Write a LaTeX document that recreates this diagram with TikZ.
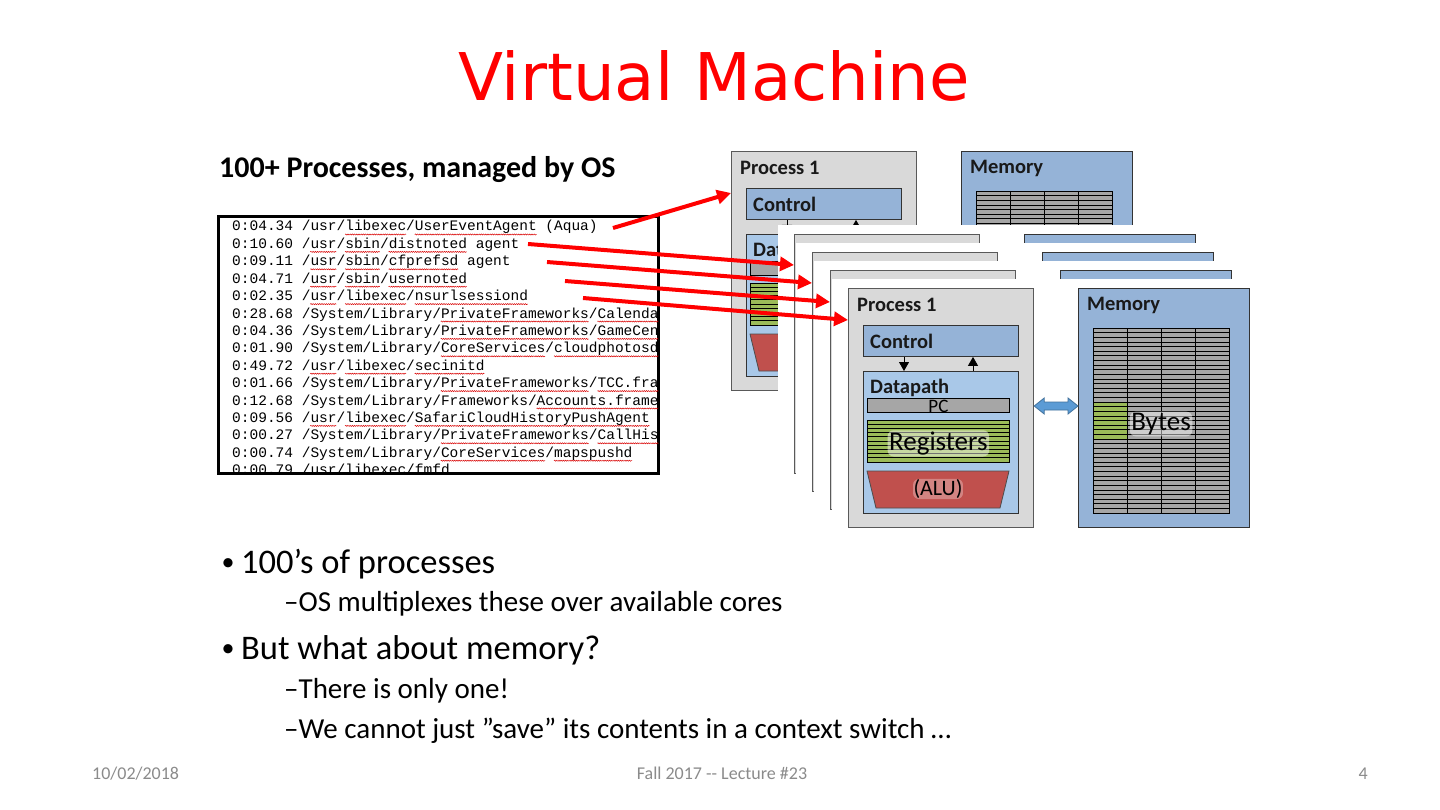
\documentclass[tikz,border=0pt]{standalone}
\usepackage{fontspec}
\setmainfont{Carlito}
\newfontfamily\monofont{Liberation Mono}
\newfontfamily\titlefont{DejaVu Sans}
\usetikzlibrary{calc,arrows.meta,decorations.pathmorphing}

\definecolor{procgray}{HTML}{D9D9D9}
\definecolor{procborder}{HTML}{595959}
\definecolor{ctrlblue}{HTML}{95B3D7}
\definecolor{dpblue}{HTML}{A9C8E8}
\definecolor{memblue}{HTML}{95B3D7}
\definecolor{pcgray}{HTML}{A6A6A6}
\definecolor{reggreen}{HTML}{9BBB59}
\definecolor{alured}{HTML}{C0504D}
\definecolor{arrowblue}{HTML}{5B9BD5}
\definecolor{arrowblueborder}{HTML}{41719C}
\definecolor{footgray}{HTML}{8B8B8B}
\definecolor{titlered}{HTML}{FF0000}

\tikzset{
  procbox/.style={draw=procborder, fill=procgray, line width=1.2pt, minimum width=185pt, minimum height=239pt, anchor=north west, inner sep=0pt},
  ctrlbox/.style={draw=black!80, fill=ctrlblue, line width=0.9pt, minimum width=155pt, minimum height=31pt, anchor=north west, inner sep=0pt},
  dpbox/.style={draw=black!80, fill=dpblue, line width=0.9pt, minimum width=155pt, minimum height=142pt, anchor=north west, inner sep=0pt},
  pcbox/.style={draw=black, fill=pcgray, line width=0.8pt, minimum width=142pt, minimum height=14pt, anchor=north west, inner sep=0pt},
  regbox/.style={draw=black, fill=reggreen, line width=0.8pt, minimum width=142pt, minimum height=42pt, anchor=north west, inner sep=0pt},
  membox/.style={draw=black!80, fill=memblue, line width=1.2pt, minimum width=171pt, minimum height=239pt, anchor=north west, inner sep=0pt},
  lbl/.style={font=\fontsize{20.5}{23}\selectfont\bfseries, text=black!90, inner sep=0pt, anchor=west},
  glow/.style={fill=white, fill opacity=0.45, text opacity=1, rounded corners=6pt, inner sep=1.5pt},
  smallarrow/.style={line width=0.8pt, -{Triangle[length=9pt,width=10pt]}},
  dblarrow/.style={fill=arrowblue, draw=arrowblueborder, line width=0.8pt},
  alushape/.style={fill=alured, draw=black!70, line width=0.8pt},
  redarrow/.style={draw=titlered, line width=4pt, -{Triangle[length=14pt,width=14pt]}},
  termtext/.style={font=\monofont\fontsize{14.5}{17.4}\selectfont, anchor=base west, inner sep=0pt},
  squiggle/.style={draw=red!85!black, line width=0.5pt, decorate, decoration={snake, amplitude=0.55pt, segment length=2.2pt}},
  bodytext/.style={anchor=base west, inner sep=0pt, font=\fontsize{34.5}{40}\selectfont},
  bulletdot/.style={anchor=base, inner sep=0pt, font=\fontsize{26}{30}\selectfont},
  subtext/.style={anchor=base west, inner sep=0pt, font=\fontsize{29}{34}\selectfont},
  foot/.style={inner sep=0pt, text=footgray, font=\fontsize{18}{20}\selectfont},
}

% #1 name prefix, #2 x, #3 y, #4 white panel (1/0), #5 labels: 2 all, 1 upper only, 0 none
\newcommand{\vmframe}[5]{%
\begin{scope}[shift={(#2,#3)}]
  \ifnum#4=1 \fill[white] (-16,-9) rectangle (412,250); \fi
  \node[procbox] (#1p) at (0,0) {};
  \ifnum#5>0 \node[lbl] (#1pl) at (9,17) {Process 1}; \fi
  \node[ctrlbox] (#1c) at (15,37) {};
  \ifnum#5>0 \node[lbl] (#1cl) at (22,53) {Control}; \fi
  \node[dpbox] (#1d) at (15,83) {};
  \ifnum#5>0 \node[lbl] (#1dl) at (22,100) {Datapath}; \fi
  \draw[smallarrow] ($(#1c.south west)+(41,0)$) -- ($(#1d.north west)+(41,0)$);
  \draw[smallarrow] ($(#1d.north west)+(110,0)$) -- ($(#1c.south west)+(110,0)$);
  \node[pcbox] (#1pc) at (19,110) {};
  \ifnum#5>1 \node[inner sep=0pt, font=\fontsize{19}{21}\selectfont] (#1pct) at ($(#1pc.center)+(0,0.5)$) {PC}; \fi
  \node[regbox] (#1r) at (19,132) {};
  \foreach \k in {1,...,9} \draw[line width=0.7pt] ($(#1r.north west)+(0,4.2*\k)$) -- ++(142,0);
  \ifnum#5>1 \node[glow, font=\fontsize{27}{30}\selectfont] (#1rt) at ($(#1r.center)+(0,2)$) {Registers}; \fi
  \draw[alushape] (19,183) -- (161,183) -- (152,220) -- (28,220) -- cycle;
  \ifnum#5>1 \node[glow, fill opacity=0.3, inner sep=0.5pt, font=\fontsize{22}{25}\selectfont] (#1alu) at (90,201) {(ALU)}; \fi
  \node[membox] (#1m) at (230,0) {};
  \ifnum#5>0 \node[lbl] (#1ml) at (239,17) {Memory}; \fi
  \fill[pcgray] (245,40) rectangle (381,225);
  \fill[reggreen] (245,114) rectangle (279,151);
  \foreach \k in {1,...,39} \draw[line width=0.7pt] (245,{40+4.625*\k}) -- (381,{40+4.625*\k});
  \foreach \xx in {279,313,347} \draw[line width=0.9pt] (\xx,40) -- (\xx,225);
  \draw[line width=0.9pt] (245,40) rectangle (381,225);
  \ifnum#5>1 \node[glow, font=\fontsize{27}{30}\selectfont] (#1by) at (313,136) {Bytes}; \fi
  \draw[dblarrow] ($(#1p.north east)+(0,118)$) -- ++(10,-8) -- ++(0,4)
     -- ($(#1m.north west)+(-10,114)$) -- ++(0,-4) -- ($(#1m.north west)+(0,118)$)
     -- ++(-10,8) -- ++(0,-4) -- ($(#1p.north east)+(10,122)$) -- ++(0,4) -- cycle;
\end{scope}}

\begin{document}
\begin{tikzpicture}[x=1pt,y=-1pt]
\useasboundingbox (0,0) rectangle (1440,810);
\fill[white] (0,0) rectangle (1440,810);

% title
\node[font=\titlefont\fontsize{65.8}{78}\selectfont, text=titlered, anchor=base, inner sep=0pt] (title) at (714,101) {Virtual Machine};

% header
\node[anchor=base west, inner sep=0pt, font=\fontsize{30}{36}\selectfont\bfseries] (hdr) at (219,178) {100+ Processes, managed by OS};

% terminal
\node[draw, line width=3.3pt, minimum width=440pt, minimum height=257pt, anchor=north west, inner sep=0pt] (term) at (217,215) {};
\begin{scope}
\clip ($(term.north west)+(2,2)$) rectangle ($(term.south east)+(-2,-2)$);
\node[termtext] (l1) at (232,231.0) {0:04.34 /usr/libexec/UserEventAgent (Aqua)};
\node[termtext] (l2) at (232,248.4) {0:10.60 /usr/sbin/distnoted agent};
\node[termtext] (l3) at (232,265.8) {0:09.11 /usr/sbin/cfprefsd agent};
\node[termtext] (l4) at (232,283.2) {0:04.71 /usr/sbin/usernoted};
\node[termtext] (l5) at (232,300.6) {0:02.35 /usr/libexec/nsurlsessiond};
\node[termtext] (l6) at (232,318.0) {0:28.68 /System/Library/PrivateFrameworks/CalendarAgent.framework};
\node[termtext] (l7) at (232,335.4) {0:04.36 /System/Library/PrivateFrameworks/GameCenterFoundation};
\node[termtext] (l8) at (232,352.8) {0:01.90 /System/Library/CoreServices/cloudphotosd.app};
\node[termtext] (l9) at (232,370.2) {0:49.72 /usr/libexec/secinitd};
\node[termtext] (l10) at (232,387.6) {0:01.66 /System/Library/PrivateFrameworks/TCC.framework};
\node[termtext] (l11) at (232,405.0) {0:12.68 /System/Library/Frameworks/Accounts.framework};
\node[termtext] (l12) at (232,422.4) {0:09.56 /usr/libexec/SafariCloudHistoryPushAgent};
\node[termtext] (l13) at (232,439.8) {0:00.27 /System/Library/PrivateFrameworks/CallHistory.framework};
\node[termtext] (l14) at (232,457.2) {0:00.74 /System/Library/CoreServices/mapspushd};
\node[termtext] (l15) at (232,474.6) {0:00.79 /usr/libexec/fmfd};
\foreach \l/\a/\b in {1/13/20, 1/21/35, 2/9/12, 2/13/17, 2/18/27, 3/9/12, 3/13/17, 3/18/26,
  4/9/12, 4/13/17, 4/18/27, 5/9/12, 5/13/20, 5/21/34, 6/24/41, 6/42/52, 7/24/41, 7/42/52,
  8/24/36, 8/37/52, 9/9/12, 9/13/20, 9/21/29, 10/24/41, 10/42/52, 11/35/52,
  12/9/12, 12/13/20, 12/21/48, 13/24/41, 13/42/52, 14/24/36, 14/37/46, 15/9/12, 15/13/20, 15/21/25}
  \draw[squiggle] ({232+8.7*\a},{231+17.4*(\l-1)+3.5}) -- ({232+8.7*\b},{231+17.4*(\l-1)+3.5});
\end{scope}

% process frames
\vmframe{A}{731}{151}{0}{1}
\vmframe{B}{794}{234}{1}{0}
\vmframe{C}{812}{252}{1}{0}
\vmframe{D}{830}{270}{1}{0}
\vmframe{E}{848}{288}{1}{2}

% red arrows
\coordinate (s1) at (613,228);
\coordinate (s2) at (528,244);
\coordinate (s3) at (547,262);
\coordinate (s4) at (565,281);
\coordinate (s5) at (583,298);
\draw[redarrow] (s1) -- ($(Ap.north west)+(0,42)$);
\draw[redarrow] (s2) -- ($(Bp.north west)+(0,31)$);
\draw[redarrow] (s3) -- ($(Cp.north west)+(0,31)$);
\draw[redarrow] (s4) -- ($(Dp.north west)+(0,32)$);
\draw[redarrow] (s5) -- ($(Ep.north west)+(0,32)$);

% bullets
\node[bulletdot] (d1) at (228,570) {•};
\node[bodytext] (b1) at (241,573) {100’s of processes};
\node[subtext] (b1a) at (284,611) {–OS multiplexes these over available cores};
\node[bulletdot] (d2) at (228,656) {•};
\node[bodytext] (b2) at (241,659) {But what about memory?};
\node[subtext] (b2a) at (284,698) {–There is only one!};
\node[subtext] (b2b) at (284,738) {–We cannot just ”save” its contents in a context switch …};

% footer
\node[foot, anchor=base west] (fdate) at (92,779) {10/02/2018};
\node[foot, anchor=base] (fmid) at (722,779) {Fall 2017 -{}- Lecture \#23};
\node[foot, anchor=base east] (fnum) at (1368,779) {4};
\end{tikzpicture}
\end{document}
